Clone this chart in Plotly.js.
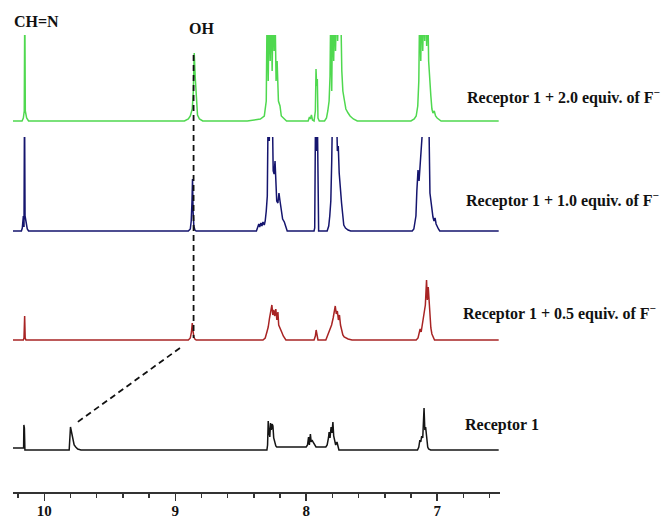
<!DOCTYPE html>
<html>
<head>
<meta charset="utf-8">
<script src="https://cdn.plot.ly/plotly-3.0.1.min.js"></script>
<style>html,body{margin:0;padding:0;background:#fff;}#chart{width:666px;height:519px;}</style>
</head>
<body>
<div id="chart"></div>
<script>
// Chemical shift axis labels (ppm)
var tickValues = [10, 9, 8, 7];
var tickLabels = ['10', '9', '8', '7'];

// Spectrum labels
var labelTop = 'Receptor 1 + 2.0 equiv. of F<sup>−</sup>';
var labelSecond = 'Receptor 1 + 1.0 equiv. of F<sup>−</sup>';
var labelThird = 'Receptor 1 + 0.5 equiv. of F<sup>−</sup>';
var labelBottom = 'Receptor 1';
var peakLabels = ['CH=N', 'OH'];

// Receptor 1 + 2.0 equiv. F- (green)
var greenPpm = [10.239,10.17,10.16,10.153,10.149,10.145,10.135,10.12,
  8.93,8.90,8.885,8.87,8.862,8.855,8.848,8.84,8.83,8.815,8.79,
  8.45,8.40,8.35,8.32,8.305,8.298,8.29,8.283,8.275,8.268,8.26,8.252,8.245,8.238,8.23,8.222,8.212,8.2,8.19,8.17,8.15,
  7.985,7.975,7.968,7.96,7.952,7.94,7.93,7.925,7.92,7.915,7.91,7.9,
  7.86,7.845,7.835,7.825,7.818,7.812,7.805,7.798,7.79,7.783,7.776,7.768,7.76,7.752,7.745,7.737,7.728,7.72,7.71,7.697,7.68,7.665,7.64,7.61,
  7.2,7.175,7.16,7.148,7.14,7.133,7.125,7.118,7.11,7.102,7.095,7.087,7.08,7.072,7.065,7.055,7.048,7.04,7.032,7.022,7.012,7.0,6.985,6.97,6.53];
var greenInt = [0,0,3,10,120,10,3,0,
  0,2,5,12,30,68,45,20,6,2,0,
  0,1,2,5,20,120,40,120,60,120,50,120,70,110,40,60,20,15,5,2,0,
  0,4,2,6,1,0,10,52,35,42,3,0,
  0,3,10,20,45,120,30,120,60,120,70,120,80,120,90,120,50,30,22,12,8,5,2,0,
  0,2,5,15,40,120,60,120,70,120,80,120,75,120,60,35,25,12,8,10,5,3,1,0,0];

// Receptor 1 + 1.0 equiv. F- (blue)
var bluePpm = [10.239,10.175,10.168,10.16,10.155,10.151,10.147,10.142,10.137,10.13,10.12,
  8.90,8.885,8.878,8.872,8.868,8.864,8.858,8.85,8.84,
  8.38,8.37,8.362,8.355,8.346,8.338,8.33,8.32,8.313,8.305,8.297,8.29,8.282,8.275,8.268,8.26,8.252,8.245,8.238,8.232,8.225,8.216,8.208,8.2,8.19,8.18,8.167,8.155,8.145,
  7.94,7.935,7.928,7.922,7.916,7.91,7.905,
  7.84,7.828,7.82,7.812,7.805,7.798,7.79,7.783,7.776,7.77,7.762,7.755,7.748,7.74,7.73,7.72,7.713,7.7,7.68,7.66,
  7.19,7.178,7.17,7.162,7.155,7.146,7.138,7.13,7.122,7.113,7.105,7.097,7.09,7.082,7.074,7.065,7.055,7.048,7.04,7.032,7.024,7.016,7.008,7.0,6.99,6.98,6.53];
var blueInt = [0,0,3,15,4,130,15,10,4,2,0,
  0,2,10,30,52,20,5,1,0,
  0,3,7,4,8,5,9,6,10,20,35,130,90,130,100,130,60,57,70,48,30,28,38,30,18,12,9,3,0,
  0,3,130,80,130,3,0,
  0,5,15,30,70,130,100,130,110,130,80,85,58,40,28,15,6,3,1,0,
  0,2,8,15,40,61,50,74,95,130,110,130,120,130,115,130,38,30,17,14,10,13,7,4,2,0,0];

// Receptor 1 + 0.5 equiv. F- (red)
var redPpm = [10.239,10.16,10.155,10.15,10.146,10.14,
  8.90,8.885,8.876,8.87,8.865,8.858,8.85,8.84,
  8.33,8.313,8.30,8.29,8.28,8.27,8.262,8.255,8.248,8.24,8.232,8.224,8.216,8.21,8.2,8.19,8.184,8.175,8.167,8.155,
  7.94,7.93,7.924,7.918,7.91,
  7.85,7.837,7.825,7.817,7.806,7.794,7.785,7.778,7.77,7.762,7.754,7.746,7.738,7.73,7.72,7.71,7.697,7.68,7.65,
  7.16,7.146,7.138,7.13,7.122,7.113,7.105,7.097,7.09,7.081,7.075,7.068,7.06,7.048,7.04,7.032,7.02,6.53];
var redInt = [0,0,2,24,2,0,
  0,2,8,17,10,3,1,0,
  0,2,8,13,22,29,35,25,30,24,31,20,28,15,11,8,7,4,2,0,
  0,4,10,3,0,
  0,4,8,11,15,22,30,34,26,29,20,25,15,9,5,3,2,1,0,
  0,2,8,11,8,16,20,29,35,60,40,53,30,12,6,3,0,0];

// Receptor 1 (black)
var blackPpm = [10.239,10.158,10.156,10.152,10.148,
  9.81,9.80,9.795,9.788,9.78,9.772,9.76,9.745,9.72,
  8.3,8.295,8.29,8.284,8.278,8.272,8.266,8.26,8.254,8.248,8.24,8.232,8.225,
  8.0,7.99,7.982,7.976,7.968,7.962,7.955,7.948,7.94,7.932,7.925,
  7.85,7.84,7.83,7.825,7.818,7.81,7.803,7.796,7.79,7.782,7.775,7.765,7.758,7.75,
  7.15,7.14,7.132,7.125,7.118,7.11,7.1,7.094,7.088,7.08,7.072,7.065,7.05,6.53];
var blackInt = [2,2,25,22,0,
  0,23,19,15,9,5,3,1,0,
  0,5,29,18,13,27,20,26,24,12,6,4,3,
  3,5,13,5,16,8,10,8,6,4,3,
  3,5,12,18,12,23,17,28,14,10,5,8,3,0,
  0,3,10,8,14,12,42,20,23,10,3,1,0,0];

var H = 519, W = 666;
function py(p){ return 1 - p / H; }
function px(p){ return p / W; }

function trace(x, y, ya, color){
  return {x: x, y: y, xaxis: 'x', yaxis: ya, type: 'scatter', mode: 'lines',
    line: {color: color, width: 1.5}, hoverinfo: 'skip', showlegend: false};
}

var data = [
  trace(greenPpm, greenInt, 'y', '#4fd84f'),
  trace(bluePpm, blueInt, 'y2', '#15156e'),
  trace(redPpm, redInt, 'y3', '#a82424'),
  trace(blackPpm, blackInt, 'y4', '#151515')
];

var serif = 'Liberation Serif, Times New Roman, serif';
function lab(text, xl, yc, size){
  return {text: '<b>' + text + '</b>', xref: 'paper', yref: 'paper', x: px(xl), y: py(yc),
    xanchor: 'left', yanchor: 'middle', showarrow: false,
    font: {family: serif, size: size || 16, color: '#111'}};
}

var hidden = {visible: false, fixedrange: true};
var layout = {
  width: W, height: H,
  margin: {l: 0, r: 0, t: 0, b: 0},
  paper_bgcolor: '#fff', plot_bgcolor: 'rgba(0,0,0,0)',
  showlegend: false,
  xaxis: {domain: [px(13), px(500)], range: [10.239, 6.52], anchor: 'free', position: py(492),
    showline: true, linecolor: '#333', linewidth: 1.5,
    ticks: 'outside', ticklen: 7, tickwidth: 1.5, tickcolor: '#333',
    tickmode: 'array', tickvals: tickValues, ticktext: tickLabels, ticklabelstandoff: -3,
    tickfont: {family: serif, size: 15, color: '#111', weight: 'bold'},
    minor: {dtick: 0.2, tick0: 0, ticks: 'outside', ticklen: 4, tickwidth: 1.5, tickcolor: '#333'},
    showgrid: false, zeroline: false, fixedrange: true},
  yaxis: Object.assign({domain: [py(124), py(35)], range: [-3, 86], anchor: 'x'}, hidden),
  yaxis2: Object.assign({domain: [py(234), py(137)], range: [-3, 94], anchor: 'x'}, hidden),
  yaxis3: Object.assign({domain: [py(343), py(250)], range: [-3, 90], anchor: 'x'}, hidden),
  yaxis4: Object.assign({domain: [py(453), py(370)], range: [-3, 80], anchor: 'x'}, hidden),
  annotations: [
    lab(peakLabels[0], 12, 21),
    lab(peakLabels[1], 187, 29),
    lab(labelTop, 465, 96),
    lab(labelSecond, 464, 200),
    lab(labelThird, 461, 312),
    lab(labelBottom, 463, 425)
  ],
  shapes: [
    {type: 'line', xref: 'x', yref: 'paper', x0: 8.86, x1: 8.86, y0: py(55), y1: py(338),
      line: {color: '#111', width: 1.8, dash: '6px,4px'}},
    {type: 'line', xref: 'x', yref: 'paper', x0: 8.964, x1: 9.766, y0: py(348), y1: py(424),
      line: {color: '#111', width: 1.8, dash: '6px,4px'}}
  ]
};

Plotly.newPlot('chart', data, layout, {staticPlot: true, displayModeBar: false});
</script>
</body>
</html>
